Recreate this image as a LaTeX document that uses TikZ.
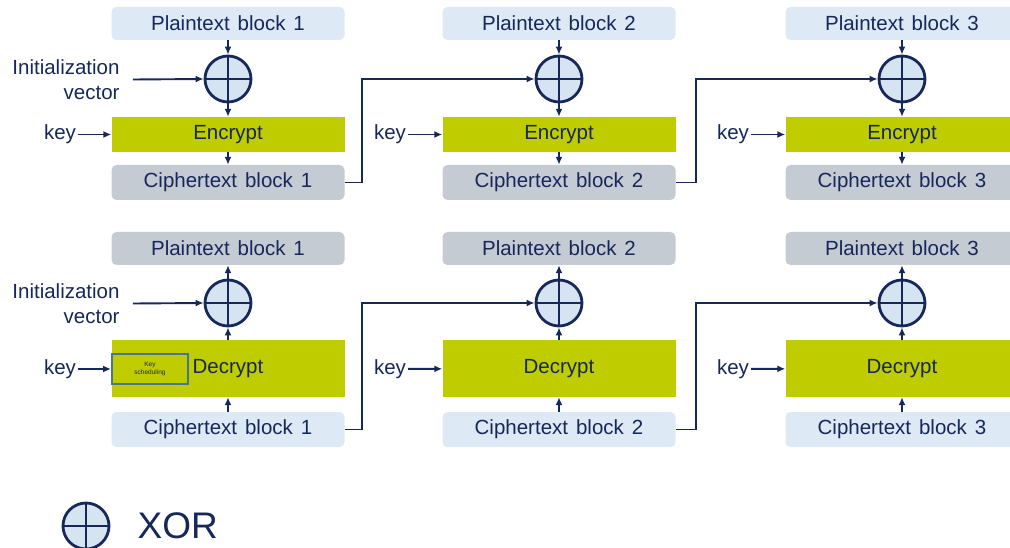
\documentclass[tikz,border=0pt]{standalone}
\usepackage{fontspec}
\setmainfont[WordSpace=1.4]{Liberation Sans}
\usetikzlibrary{arrows.meta, positioning}

\definecolor{navy}{RGB}{22,40,90}
\definecolor{paleblue}{RGB}{221,233,245}
\definecolor{greybox}{RGB}{197,203,211}
\definecolor{cipgreen}{RGB}{191,204,0}
\definecolor{xorfill}{RGB}{214,228,242}
\definecolor{ksborder}{RGB}{72,118,146}

\begin{document}
\begin{tikzpicture}[x=1pt, y=-1pt, >={Latex[length=8pt,width=7pt]},
  font=\fontsize{20.5}{25}\selectfont, text=navy,
  arr/.style={->, draw=navy, line width=1.9pt},
  plainbox/.style={rounded corners=5pt, fill=paleblue, minimum width=233pt, minimum height=33pt, inner sep=0pt},
  greyblock/.style={rounded corners=5pt, fill=greybox, minimum width=233pt, minimum height=35pt, inner sep=0pt},
  cipherbox/.style={fill=cipgreen, minimum width=233pt, minimum height=35pt, inner sep=0pt},
  xor/.style={circle, draw=navy, fill=xorfill, line width=2.8pt, minimum size=46pt, inner sep=0pt,
    path picture={\draw[navy, line width=2.8pt] (path picture bounding box.north) -- (path picture bounding box.south)
      (path picture bounding box.west) -- (path picture bounding box.east);}},
  keylabel/.style={inner sep=2pt}]
\clip (0,0) rectangle (1010,548);

% encryption row
\node[plainbox] (p1) at (228,23.5) {Plaintext block 1};
\node[xor] (x1) at (228,79) {};
\node[cipherbox] (e1) at (228,134.5) {Encrypt};
\node[greyblock] (c1) at (228,182.5) {Ciphertext block 1};
\node[align=right, inner sep=0pt] (iv1) at (66,79.5) {Initialization\\vector};
\node[keylabel] (key1) at (60,134.5) {key};

\node[plainbox] (p2) at (559,23.5) {Plaintext block 2};
\node[xor] (x2) at (559,79) {};
\node[cipherbox] (e2) at (559,134.5) {Encrypt};
\node[greyblock] (c2) at (559,182.5) {Ciphertext block 2};
\node[keylabel] (key2) at (390,134.5) {key};

\node[plainbox] (p3) at (902,23.5) {Plaintext block 3};
\node[xor] (x3) at (902,79) {};
\node[cipherbox] (e3) at (902,134.5) {Encrypt};
\node[greyblock] (c3) at (902,182.5) {Ciphertext block 3};
\node[keylabel] (key3) at (733,134.5) {key};

\draw[arr] (p1) -- (x1);
\draw[arr] (x1) -- (e1);
\draw[arr] (e1) -- (c1);
\draw[arr] ([xshift=13pt]iv1.east) -- (x1.west);
\draw[arr] (key1) -- (e1);
\draw[arr] (c1.east) -- ++(17.5,0) |- (x2.west);
\draw[arr] (p2) -- (x2);
\draw[arr] (x2) -- (e2);
\draw[arr] (e2) -- (c2);
\draw[arr] (key2) -- (e2);
\draw[arr] (c2.east) -- ++(20.5,0) |- (x3.west);
\draw[arr] (p3) -- (x3);
\draw[arr] (x3) -- (e3);
\draw[arr] (e3) -- (c3);
\draw[arr] (key3) -- (e3);

% decryption row
\node[greyblock, minimum height=33pt] (q1) at (228,248.5) {Plaintext block 1};
\node[xor] (y1) at (228,303) {};
\node[cipherbox, minimum height=57pt] (d1) at (228,368.5) {Decrypt};
\node[plainbox, minimum height=35pt] (k1) at (228,429.5) {Ciphertext block 1};
\node[align=right, inner sep=0pt] (iv2) at (66,303.5) {Initialization\\vector};
\node[keylabel] (key4) at (60,369) {key};
\node[draw=ksborder, line width=2pt, minimum width=76pt, minimum height=30pt, inner sep=0pt,
  align=center, font=\fontsize{6.5}{7.5}\selectfont] (ks) at (150,369) {Key\\scheduling};

\node[greyblock, minimum height=33pt] (q2) at (559,248.5) {Plaintext block 2};
\node[xor] (y2) at (559,303) {};
\node[cipherbox, minimum height=57pt] (d2) at (559,368.5) {Decrypt};
\node[plainbox, minimum height=35pt] (k2) at (559,429.5) {Ciphertext block 2};
\node[keylabel] (key5) at (390,369) {key};

\node[greyblock, minimum height=33pt] (q3) at (902,248.5) {Plaintext block 3};
\node[xor] (y3) at (902,303) {};
\node[cipherbox, minimum height=57pt] (d3) at (902,368.5) {Decrypt};
\node[plainbox, minimum height=35pt] (k3) at (902,429.5) {Ciphertext block 3};
\node[keylabel] (key6) at (733,369) {key};

\draw[arr] (k1) -- (d1);
\draw[arr] (d1) -- (y1);
\draw[arr] (y1) -- (q1);
\draw[arr] ([xshift=13pt]iv2.east) -- (y1.west);
\draw[arr] (key4) -- (ks);
\draw[arr] (k1.east) -- ++(17.5,0) |- (y2.west);
\draw[arr] (k2) -- (d2);
\draw[arr] (d2) -- (y2);
\draw[arr] (y2) -- (q2);
\draw[arr] (key5) -- (d2);
\draw[arr] (k2.east) -- ++(20.5,0) |- (y3.west);
\draw[arr] (k3) -- (d3);
\draw[arr] (d3) -- (y3);
\draw[arr] (y3) -- (q3);
\draw[arr] (key6) -- (d3);

% legend
\node[xor] (leg) at (86,526) {};
\node[right=27pt of leg, inner sep=0pt, font=\fontsize{37}{40}\selectfont] (legtext) {XOR};
\end{tikzpicture}
\end{document}
